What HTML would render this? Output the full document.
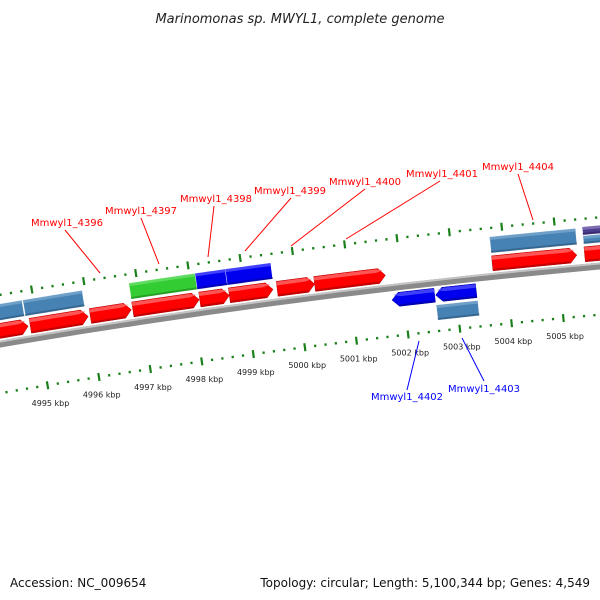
<!DOCTYPE html>
<html><head><meta charset="utf-8"><style>
html,body{margin:0;padding:0;background:#fff;}
svg{display:block;font-family:"DejaVu Sans","Liberation Sans",sans-serif;}
</style></head><body>
<svg id="map" width="600" height="600" viewBox="0 0 600 600" xmlns="http://www.w3.org/2000/svg">
<rect width="600" height="600" fill="#fff"/>
<text x="300" y="23" text-anchor="middle" font-size="13" font-style="italic" fill="#222">Marinomonas sp. MWYL1, complete genome</text>
<text x="10" y="587" font-size="12" fill="#111">Accession: NC_009654</text>
<text x="590" y="587" text-anchor="end" font-size="12" fill="#111">Topology: circular; Length: 5,100,344 bp; Genes: 4,549</text>
<g id="rulers"></g>
<g id="feats"></g>
<g id="labels"></g>
</svg>
<script>
// ---- data (kbp) ----
const fwdStart = [4993.5, 4994.86, 4996.02, 4996.84, 4998.13, 4998.70, 4999.62, 5000.34, 5003.75, 5005.52];
const fwdEnd   = [4994.82, 4995.98, 4996.81, 4998.12, 4998.70, 4999.54, 5000.34, 5001.70, 5005.37, 5006.6];
const upStart  = [4993.5, 4994.80, 4996.84, 4998.11, 4998.69, 5003.75];
const upEnd    = [4994.78, 4995.94, 4998.11, 4998.69, 4999.56, 5005.39];
const upColor  = ["#4682b4", "#4682b4", "#33cc33", "#0000ee", "#0000ee", "#4682b4"];
const revStart = [5001.77, 5002.61];
const revEnd   = [5002.59, 5003.39];
const lowStart = [5002.60];
const lowEnd   = [5003.40];
const tickMin = 4993, tickMax = 5006.6;
const majorTicks = [4995, 4996, 4997, 4998, 4999, 5000, 5001, 5002, 5003, 5004, 5005];

const NS = "http://www.w3.org/2000/svg";
const cx = 1280, cy = 7835, th0 = -0.1295, dth = 0.00689;
function P(k, r) { const t = th0 + (k - 5000) * dth; return [cx + r * Math.sin(t), cy - r * Math.cos(t)]; }
function mk(tag, attrs, parent) { const e = document.createElementNS(NS, tag); for (const a in attrs) e.setAttribute(a, attrs[a]); parent.appendChild(e); return e; }
function band(k1, k2, r1, r2) {
  const pts = []; const n = 12;
  for (let i = 0; i <= n; i++) pts.push(P(k1 + (k2 - k1) * i / n, r2));
  for (let i = n; i >= 0; i--) pts.push(P(k1 + (k2 - k1) * i / n, r1));
  return pts.map(p => p[0].toFixed(2) + "," + p[1].toFixed(2)).join(" ");
}
function arrow(k1, k2, r1, r2, dir) {
  const h = 0.13, pts = [], n = 10, rm = (r1 + r2) / 2;
  if (dir > 0) {
    const b = k2 - h;
    for (let i = 0; i <= n; i++) pts.push(P(k1 + (b - k1) * i / n, r2));
    pts.push(P(k2, rm));
    for (let i = n; i >= 0; i--) pts.push(P(k1 + (b - k1) * i / n, r1));
  } else {
    const b = k1 + h;
    pts.push(P(k1, rm));
    for (let i = 0; i <= n; i++) pts.push(P(b + (k2 - b) * i / n, r2));
    for (let i = n; i >= 0; i--) pts.push(P(b + (k2 - b) * i / n, r1));
  }
  return pts.map(p => p[0].toFixed(2) + "," + p[1].toFixed(2)).join(" ");
}
function shade(c) { return c === "#ff0000" ? "#ff6a6a" : c === "#4682b4" ? "#78a6cd" : c === "#33cc33" ? "#6ade6a" : c === "#0000ee" ? "#5050ff" : "#8877bb"; }
function dark(c) { return c === "#ff0000" ? "#b00000" : c === "#4682b4" ? "#2d5a80" : c === "#33cc33" ? "#1e8f1e" : c === "#0000ee" ? "#0000a0" : "#332266"; }

const rul = document.getElementById("rulers");
const fg = document.getElementById("feats");

let bb = mk("polygon", { points: band(4992, 5007, 7596, 7603), fill: "#8a8a8a" }, fg);


let bbt = mk("polygon", { points: band(4992, 5007, 7601, 7603), fill: "#c4c4c4" }, fg);



[[7648, "upper"], [7551, "lower"]].forEach(([r, nm]) => {
  for (let k = Math.ceil(tickMin * 5) / 5; k <= tickMax; k += 0.2) {
    const kk = Math.round(k * 5) / 5;
    const major = Math.abs(kk - Math.round(kk)) < 1e-6;
    const a = P(kk, r - (major ? 4 : 1.2)), b = P(kk, r + (major ? 4 : 1.2));
    const ln = mk("line", { x1: a[0], y1: a[1], x2: b[0], y2: b[1], stroke: "#1a801a", "stroke-width": 2.2 }, rul);
    
    
  }
});
majorTicks.forEach(k => {
  const p = P(k, 7533);
  const t = mk("text", { x: p[0].toFixed(1), y: (p[1] + 3).toFixed(1), "text-anchor": "middle", "font-size": "8", fill: "#222" }, rul);
  t.textContent = k + " kbp";
  
  
});

function drawArrow(k1, k2, r1, r2, dir, col, name) {
  const g = mk("g", {}, fg);
  
  
  mk("polygon", { points: arrow(k1, k2, r1, r2, dir), fill: col, stroke: dark(col), "stroke-width": 0.5 }, g);
  mk("polygon", { points: arrow(k1 + (dir < 0 ? 0.04 : 0), k2 - (dir > 0 ? 0.04 : 0), r2 - 4, r2 - 0.5, dir), fill: shade(col), opacity: 0.8 }, g);
  mk("polygon", { points: band(k1 + (dir < 0 ? 0.13 : 0), k2 - (dir > 0 ? 0.13 : 0), r1, r1 + 2), fill: dark(col), opacity: 0.7 }, g);
}
function drawBar(k1, k2, r1, r2, col, name) {
  const g = mk("g", {}, fg);
  
  
  mk("polygon", { points: band(k1, k2, r1, r2), fill: col, stroke: "#fff", "stroke-width": 0.4 }, g);
  mk("polygon", { points: band(k1, k2, r2 - 3, r2), fill: shade(col), opacity: 0.8 }, g);
  mk("polygon", { points: band(k1, k2, r1, r1 + 2), fill: dark(col), opacity: 0.7 }, g);
}
for (let i = 0; i < fwdStart.length; i++) drawArrow(fwdStart[i], fwdEnd[i], 7605, 7620, 1, "#ff0000", "forward-cds-" + i);
for (let i = 0; i < upStart.length; i++) drawBar(upStart[i], upEnd[i], 7623, 7639, upColor[i], "gene-feature-" + i);
drawBar(5005.52, 5006.6, 7623, 7631, "#4682b4", "gene-feature-right");
drawBar(5005.52, 5006.6, 7632, 7640, "#4b3c8c", "misc-feature-right");
for (let i = 0; i < revStart.length; i++) drawArrow(revStart[i], revEnd[i], 7580, 7594, -1, "#0000ee", "reverse-cds-" + i);
for (let i = 0; i < lowStart.length; i++) drawBar(lowStart[i], lowEnd[i], 7562, 7577, "#4682b4", "reverse-gene-" + i);

const lab = document.getElementById("labels");
const labels = [
  ["Mmwyl1_4396", 67, 226, 65, 230, 100, 273, "red"],
  ["Mmwyl1_4397", 141, 214, 141, 218, 159, 264, "red"],
  ["Mmwyl1_4398", 216, 202, 214, 206, 208, 257, "red"],
  ["Mmwyl1_4399", 290, 194, 291, 198, 245, 251, "red"],
  ["Mmwyl1_4400", 365, 185, 365, 189, 291, 246, "red"],
  ["Mmwyl1_4401", 442, 177, 440, 181, 346, 239, "red"],
  ["Mmwyl1_4404", 518, 170, 518, 174, 533, 220, "red"],
  ["Mmwyl1_4402", 407, 400, 407, 390, 419, 341, "blue"],
  ["Mmwyl1_4403", 484, 392, 484, 381, 462, 338, "blue"]
];
labels.forEach(l => {
  const ln = mk("line", { x1: l[3], y1: l[4], x2: l[5], y2: l[6], stroke: l[7] === "red" ? "#ff0000" : "#0000ff", "stroke-width": 1 }, lab);
  
  
  const t = mk("text", { x: l[1], y: l[2], "text-anchor": "middle", "font-size": "10", fill: l[7] === "red" ? "#ff0000" : "#0000ff" }, lab);
  t.textContent = l[0];
  
  
});
</script>
</body></html>
